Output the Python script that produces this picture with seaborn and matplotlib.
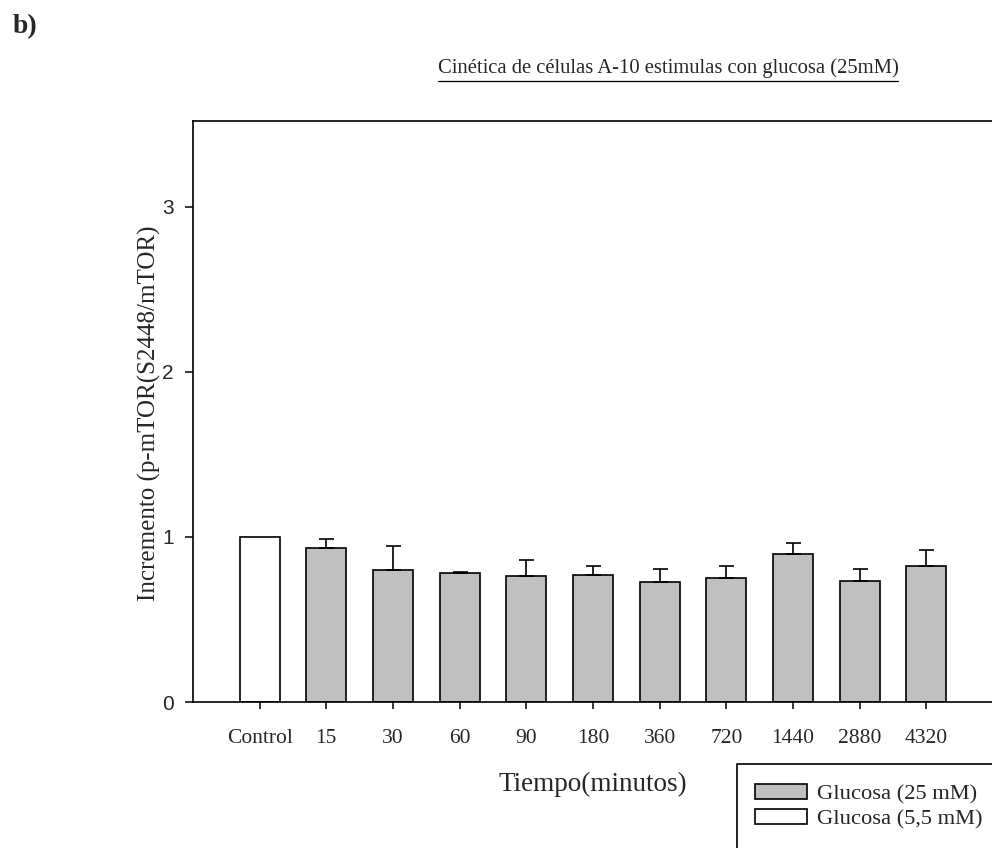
import numpy as np
import pandas as pd
import matplotlib
matplotlib.use("Agg")
import matplotlib.pyplot as plt
from matplotlib.patches import Rectangle
from matplotlib.lines import Line2D
import seaborn as sns

# ---- data ----
categories = ["Control", "15", "30", "60", "90", "180", "360", "720", "1440", "2880", "4320"]
values = [1.00, 0.93, 0.80, 0.78, 0.765, 0.77, 0.725, 0.75, 0.897, 0.735, 0.823]
errors = [0.0, 0.06, 0.148, 0.01, 0.097, 0.052, 0.081, 0.076, 0.067, 0.068, 0.097]
groups = ["Glucosa (5,5 mM)"] + ["Glucosa (25 mM)"] * 10
hue_order = ["Glucosa (25 mM)", "Glucosa (5,5 mM)"]
yticks = [0, 1, 2, 3]

title = "Cinética de células A-10 estimulas con glucosa (25mM)"
ylabel = "Incremento (p-mTOR(S2448/mTOR)"
xlabel = "Tiempo(minutos)"

df = pd.DataFrame({"tiempo": categories, "valor": values, "err": errors, "grupo": groups})

sns.set_theme(style="white")
serif = ["Liberation Serif", "DejaVu Serif"]
sans = ["Liberation Sans", "DejaVu Sans"]
plt.rcParams["font.family"] = serif

W, H = 992, 848
fig = plt.figure(figsize=(W / 100, H / 100), dpi=100)
ax = fig.add_axes([193 / W, 1 - 702 / H, 800 / W, (702 - 121) / H])

palette = {"Glucosa (25 mM)": "#c0c0c0", "Glucosa (5,5 mM)": "white"}
sns.barplot(data=df, x="tiempo", y="valor", hue="grupo", hue_order=hue_order,
            order=categories, dodge=False, palette=palette, width=0.6,
            edgecolor="black", linewidth=1.2, errorbar=None, ax=ax, saturation=1)

handles, labels = ax.get_legend_handles_labels()
if ax.get_legend() is not None:
    ax.get_legend().remove()

pos = np.arange(len(categories))
err = np.array(errors)
vals = np.array(values)
m = err > 0
ax.errorbar(pos[m], vals[m], yerr=[np.zeros(m.sum()), err[m]], fmt="none",
            ecolor="black", elinewidth=1.2, capsize=5.4, capthick=1.2, zorder=1)

ax.set_xlim(-1, 11)
ax.set_ylim(0, 3.52)
ax.set_yticks(yticks)
ax.set_yticklabels([str(t) for t in yticks], family=sans, fontsize=15)
ax.set_xticks(pos)
ax.set_xticklabels(categories, fontsize=15.5)

for s in ["top", "left", "bottom"]:
    ax.spines[s].set_visible(True)
    ax.spines[s].set_color("black")
    ax.spines[s].set_linewidth(1.2)
ax.spines["right"].set_visible(False)

ax.tick_params(axis="x", direction="out", length=5, width=1.1, color="black", pad=14.5, bottom=True)
ax.tick_params(axis="y", direction="out", length=5.5, width=1.1, color="black", pad=8.5, left=True)

ax.set_xlabel(xlabel, fontsize=19.5)
ax.xaxis.set_label_coords((593 - 193) / 800, -(772 - 702) / 581, transform=ax.transAxes)
ax.set_ylabel(ylabel, fontsize=18)
ax.yaxis.set_label_coords((161 - 193) / 800, (702 - 413) / 581, transform=ax.transAxes)

# panel label
fig.text(13 / W, 1 - 27 / H, "b)", fontsize=20, fontweight="bold", va="center", ha="left")

# title with underline
t = fig.text(668 / W, 1 - 68 / H, title, fontsize=14.9, ha="center", va="center")
fig.canvas.draw()
bb = t.get_window_extent(renderer=fig.canvas.get_renderer())
uy = (H - 81) / H
fig.add_artist(Line2D([bb.x0 / W, bb.x1 / W], [uy, uy], color="black", lw=0.9,
                      transform=fig.transFigure))

# legend box extending past figure edges
fig.add_artist(Rectangle((737 / W, -0.05), 0.5, (1 - 764 / H) + 0.05, transform=fig.transFigure,
                         facecolor="white", edgecolor="black", lw=1.2, zorder=5))
order = [labels.index(l) for l in hue_order]
leg = fig.legend([handles[i] for i in order], [labels[i] for i in order],
                 loc="upper left", bbox_to_anchor=(755 / W, 1 - 784 / H),
                 frameon=False, fontsize=16.2, handlelength=2.3, handleheight=0.65,
                 handletextpad=0.45, labelspacing=0.2, borderpad=0, borderaxespad=0)
leg.set_zorder(6)

fig.savefig("out.png", dpi=100)
